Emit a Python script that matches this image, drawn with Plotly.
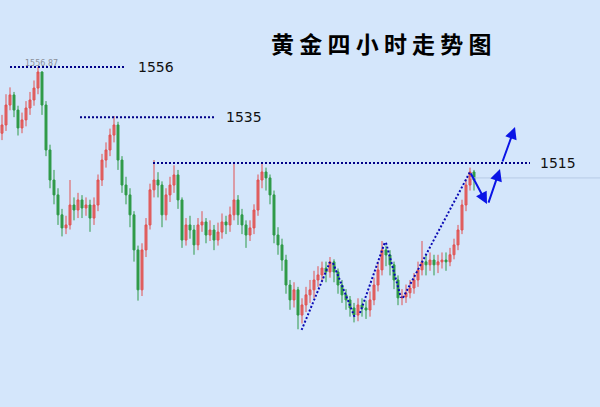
import plotly.graph_objects as go

# ---- data (price units) ----
close = [1531.6,1540.3,1544.7,1538.1,1530.3,1533.8,1539.0,1542.5,1547.7,1554.7,
1540.3,1520.7,1507.6,1501.1,1492.4,1486.7,1488.0,1496.7,1494.5,1498.9,
1495.4,1496.7,1491.0,1496.7,1507.6,1516.3,1520.7,1527.2,1531.6,1516.3,
1505.4,1501.1,1492.4,1477.1,1459.7,1477.1,1488.0,1503.3,1507.6,1505.4,
1492.4,1501.1,1505.4,1509.8,1498.9,1481.4,1488.0,1485.8,1479.3,1488.0,
1489.3,1483.6,1485.8,1481.4,1484.9,1489.3,1488.0,1492.4,1498.9,1492.4,
1488.0,1483.6,1486.7,1494.5,1507.6,1511.1,1508.5,1501.1,1483.6,1479.3,
1472.7,1461.8,1455.3,1459.7,1448.7,1453.1,1457.5,1459.7,1464.0,1466.2,
1469.2,1467.5,1471.9,1467.5,1461.8,1457.5,1455.3,1451.8,1448.7,1453.1,
1451.8,1450.9,1455.3,1461.8,1468.4,1477.1,1474.9,1470.6,1464.0,1456.2,
1456.6,1458.4,1460.5,1464.0,1468.4,1471.9,1470.6,1472.7,1470.6,1471.9,
1472.7,1471.9,1475.0,1479.3,1485.8,1496.7,1505.4,1511.1,1507.6]

open_ = [1528.0,1531.6,1540.3,1544.7,1538.1,1530.3,1533.8,1539.0,1542.5,1547.7,
1554.7,1540.3,1520.7,1507.6,1501.1,1492.4,1486.7,1488.0,1496.7,1494.5,
1498.9,1495.4,1496.7,1491.0,1496.7,1507.6,1516.3,1520.7,1527.2,1531.6,
1516.3,1505.4,1501.1,1492.4,1477.1,1459.7,1477.1,1488.0,1503.3,1507.6,
1505.4,1492.4,1501.1,1505.4,1509.8,1498.9,1481.4,1488.0,1485.8,1479.3,
1488.0,1489.3,1483.6,1485.8,1481.4,1484.9,1489.3,1488.0,1492.4,1498.9,
1492.4,1488.0,1483.6,1486.7,1494.5,1507.6,1511.1,1508.5,1501.1,1483.6,
1479.3,1472.7,1461.8,1455.3,1459.7,1448.7,1453.1,1457.5,1459.7,1464.0,
1466.2,1469.2,1467.5,1471.9,1467.5,1461.8,1457.5,1455.3,1451.8,1448.7,
1453.1,1451.8,1450.9,1455.3,1461.8,1468.4,1477.1,1474.9,1470.6,1464.0,
1456.2,1456.6,1458.4,1460.5,1464.0,1468.4,1471.9,1470.6,1472.7,1470.6,
1471.9,1472.7,1471.9,1475.0,1479.3,1485.8,1496.7,1505.4,1511.1]

high = [1536,1545,1548,1546,1540,1537,1542,1546,1551,1556.87,
1555,1542,1523,1512,1504,1495,1492,1507.6,1500,1502,
1501,1500,1499,1500,1510,1519,1524,1530,1535.5,1533,
1518,1509,1504,1494,1479,1480,1491,1506,1516.3,1511,
1507,1504,1509,1514,1512,1500,1491,1492,1488,1491,
1494,1491,1490,1488,1489,1493,1492,1496,1515,1501,
1495,1490,1490,1497,1510,1515,1513,1510,1503,1487,
1482,1475,1464,1463,1461,1456,1461,1464,1468,1470,
1472,1472,1474,1473,1469,1464,1460,1457,1454,1456,
1456,1455,1459,1465,1472,1481,1479,1477,1472,1466,
1460,1462,1464,1467,1472,1481,1475,1476,1475,1475,
1476,1476,1478,1482,1488,1499,1508,1513,1512]

low = [1525,1529,1538,1535,1527,1528,1531,1536,1540,1545,
1536,1518,1504,1497,1488,1483,1484,1486,1490,1491,
1491,1492,1485,1488,1494,1505,1513,1518,1524,1512,
1502,1497,1487,1472,1455,1457,1474,1486,1500,1500,
1487,1490,1498,1502,1495,1478,1479,1482,1475,1477,
1485,1480,1481,1477,1479,1482,1484,1485,1490,1488,
1484,1478,1481,1484,1492,1504,1503,1497,1480,1475,
1468,1458,1451,1452,1442.5,1445,1450,1454,1456,1461,
1463,1463,1465,1463,1458,1454,1451,1448,1445.5,1446,
1448,1447,1448,1453,1459,1466,1470,1466,1460,1453,
1453,1454,1456,1458,1461,1466,1466,1468,1466,1467,
1469,1468,1470,1473,1477,1484,1494,1503,1503]

idx = list(range(len(close)))

# reference levels: (value, x0, x1, label text, label x)
level_values = [1556.87, 1535, 1515]
level_x0 = [2.0, 19.5, 37.75]
level_x1 = [30.75, 53.25, 132.0]
level_labels = ["1556", "1535", "1515"]
level_label_x = [33.5, 55.5, 134.0]

# trend dotted segments (x0, y0, x1, y1)
trend_segs = [(74.9, 1442.2, 82.0, 1471.9),
              (82.75, 1471.4, 88.25, 1447.4),
              (89.5, 1449.6, 95.75, 1480.6),
              (96.0, 1480.2, 99.75, 1456.2),
              (100.25, 1456.2, 117.0, 1511.1)]

# forecast arrows (tail x, tail y, head x, head y)
arrows = [(117.0, 1511.1, 121.25, 1497.1),
          (121.5, 1497.1, 124.5, 1512.4),
          (125.0, 1515.0, 128.25, 1530.7)]

BG = "#d4e6fb"
NAVY = "#000088"

fig = go.Figure()
fig.add_trace(go.Candlestick(
    x=idx, open=open_, high=high, low=low, close=close,
    increasing=dict(line=dict(color="#e05252", width=1), fillcolor="#e06a6a"),
    decreasing=dict(line=dict(color="#2f9a48", width=1), fillcolor="#2f9a48"),
    whiskerwidth=0, showlegend=False, hoverinfo="skip"))

shapes = []
for v, x0, x1 in zip(level_values, level_x0, level_x1):
    shapes.append(dict(type="line", xref="x", yref="y", x0=x0, x1=x1, y0=v, y1=v,
                       line=dict(color=NAVY, width=2, dash="2px,2px")))
# faint current-price line
shapes.append(dict(type="line", xref="x", yref="y", x0=117, x1=149.5, y0=1508.5, y1=1508.5,
                   line=dict(color="#b7cce6", width=1)))
for x0, y0, x1, y1 in trend_segs:
    shapes.append(dict(type="line", xref="x", yref="y", x0=x0, x1=x1, y0=y0, y1=y1,
                       line=dict(color="#0a0ab4", width=2, dash="2px,2px")))

annotations = []
for lab, lx, v in zip(level_labels, level_label_x, level_values):
    annotations.append(dict(x=lx, y=v, xref="x", yref="y", text=lab, showarrow=False,
                            xanchor="left", yanchor="middle",
                            font=dict(family="DejaVu Sans", size=14, color="#111111")))
annotations.append(dict(x=5.3, y=1556.87, xref="x", yref="y", text="1556.87", showarrow=False,
                        xanchor="left", yanchor="bottom", yshift=-3,
                        font=dict(family="DejaVu Sans", size=8, color="#8a8f99")))
for tx, ty, hx, hy in arrows:
    annotations.append(dict(x=hx, y=hy, ax=tx, ay=ty, xref="x", yref="y", axref="x", ayref="y",
                            text="", showarrow=True, arrowhead=2, arrowsize=1.2, arrowwidth=2,
                            arrowcolor="#0a14e6"))
annotations.append(dict(x=0.635, y=0.895, xref="paper", yref="paper", text="黄 金 四 小 时 走 势 图",
                        showarrow=False, xanchor="center", yanchor="middle",
                        font=dict(family="Noto Sans CJK SC", size=23, color="#000000", weight="bold")))

fig.update_layout(
    width=600, height=407, margin=dict(l=0, r=0, t=0, b=0),
    paper_bgcolor=BG, plot_bgcolor=BG,
    xaxis=dict(range=[-0.5, 149.5], visible=False, rangeslider=dict(visible=False)),
    yaxis=dict(range=[1408.6, 1586.1], visible=False),
    shapes=shapes, annotations=annotations, showlegend=False)

fig.write_html("out.html", config={"displayModeBar": False},
               post_script="document.body.style.margin='0';document.body.style.padding='0';"
                           "document.body.style.overflow='hidden';"
                           "document.documentElement.style.background='" + BG + "';")
